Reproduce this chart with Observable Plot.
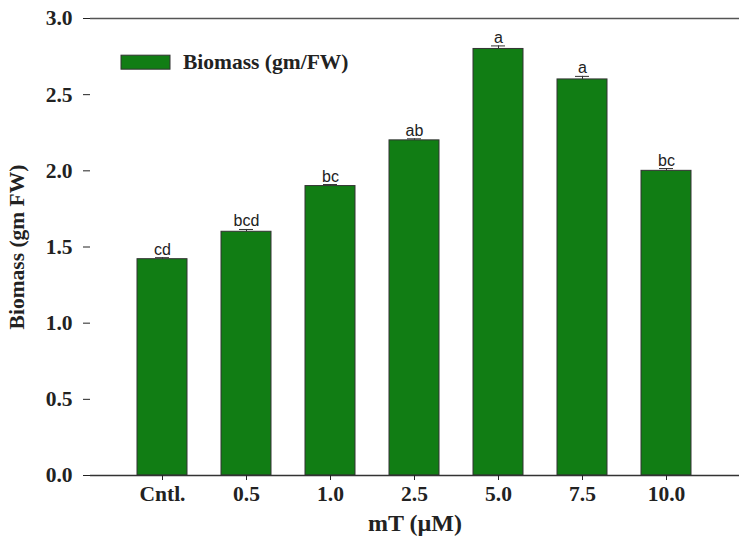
<!DOCTYPE html>
<html>
<head>
<meta charset="utf-8">
<script src="https://cdn.jsdelivr.net/npm/d3@7"></script>
<script src="https://cdn.jsdelivr.net/npm/@observablehq/plot@0.6"></script>
<style>
  body { margin: 0; background: #fff; }
</style>
</head>
<body>
<div id="chart"></div>
<script>
const categories = ["Cntl.", "0.5", "1.0", "2.5", "5.0", "7.5", "10.0"];
const biomass = [1.42, 1.60, 1.90, 2.20, 2.80, 2.60, 2.00];
const errors = [0.01, 0.015, 0.01, 0.01, 0.02, 0.02, 0.015];
const letters = ["cd", "bcd", "bc", "ab", "a", "a", "bc"];
const yTicks = [0, 0.5, 1.0, 1.5, 2.0, 2.5, 3.0];
const seriesName = "Biomass (gm/FW)";
const yTitle = "Biomass (gm FW)";
const xTitle = "mT (\u00b5M)";

const data = categories.map((c, i) => ({cat: c, value: biomass[i], err: errors[i], letter: letters[i]}));
const barColor = "#117d14";
const axisColor = "#333";

const chart = Plot.plot({
  width: 739,
  height: 543,
  marginLeft: 90,
  marginRight: 0,
  marginTop: 18,
  marginBottom: 68,
  style: {fontFamily: "'Liberation Serif', 'Times New Roman', serif", fontWeight: "bold", fontSize: "21px", color: "#222", background: "#fff"},
  x: {domain: categories, paddingInner: 0.4, paddingOuter: 0.55},
  y: {domain: [0, 3]},
  marks: [
    Plot.barY(data, {x: "cat", y: "value", fill: barColor, stroke: axisColor, strokeWidth: 1}),
    Plot.ruleX(data, {x: "cat", y1: "value", y2: d => d.value + d.err, stroke: axisColor, strokeWidth: 1}),
    Plot.tickY(data, {x: "cat", y: d => d.value + d.err, insetLeft: 18, insetRight: 18, stroke: axisColor, strokeWidth: 1}),
    Plot.text(data, {x: "cat", y: d => d.value + d.err, text: "letter", dy: -3, lineAnchor: "bottom",
      fontFamily: "'Liberation Sans', Arial, sans-serif", fontWeight: "normal", fontSize: 16, fill: "#222"}),
    Plot.ruleY([3], {stroke: "#555", strokeWidth: 1.5}),
    Plot.ruleY([0], {stroke: axisColor, strokeWidth: 1.5}),
    Plot.axisY({ticks: yTicks, tickFormat: d3.format(".1f"), tickSize: 7, tickPadding: 11, label: null, fontSize: 21.5}),
    Plot.axisX({tickSize: 5, tickPadding: 5, label: null, fontSize: 21.5}),
    Plot.ruleX([0], {frameAnchor: "left", y1: 0, y2: 3, stroke: axisColor, strokeWidth: 1.5}),
    Plot.text([yTitle], {frameAnchor: "left", textAnchor: "middle", lineAnchor: "middle", rotate: -90, dx: -73, fontSize: 21.5}),
    Plot.text([xTitle], {frameAnchor: "bottom", textAnchor: "middle", lineAnchor: "middle", dy: 48, fontSize: 24})
  ]
});

// In-plot legend
const sy = chart.scale("y");
const svg = d3.select(chart);
const lx = 90 + 31, ly = sy.apply(2.71);
const g = svg.append("g");
g.append("rect").attr("x", lx).attr("y", ly - 7).attr("width", 49).attr("height", 14)
  .attr("fill", barColor).attr("stroke", axisColor).attr("stroke-width", 1);
g.append("text").attr("x", lx + 62).attr("y", ly).attr("dy", "0.32em").attr("text-anchor", "start")
  .attr("font-size", 21.5).attr("font-weight", "bold").attr("fill", "#222").text(seriesName);

document.getElementById("chart").appendChild(chart);
</script>
</body>
</html>
